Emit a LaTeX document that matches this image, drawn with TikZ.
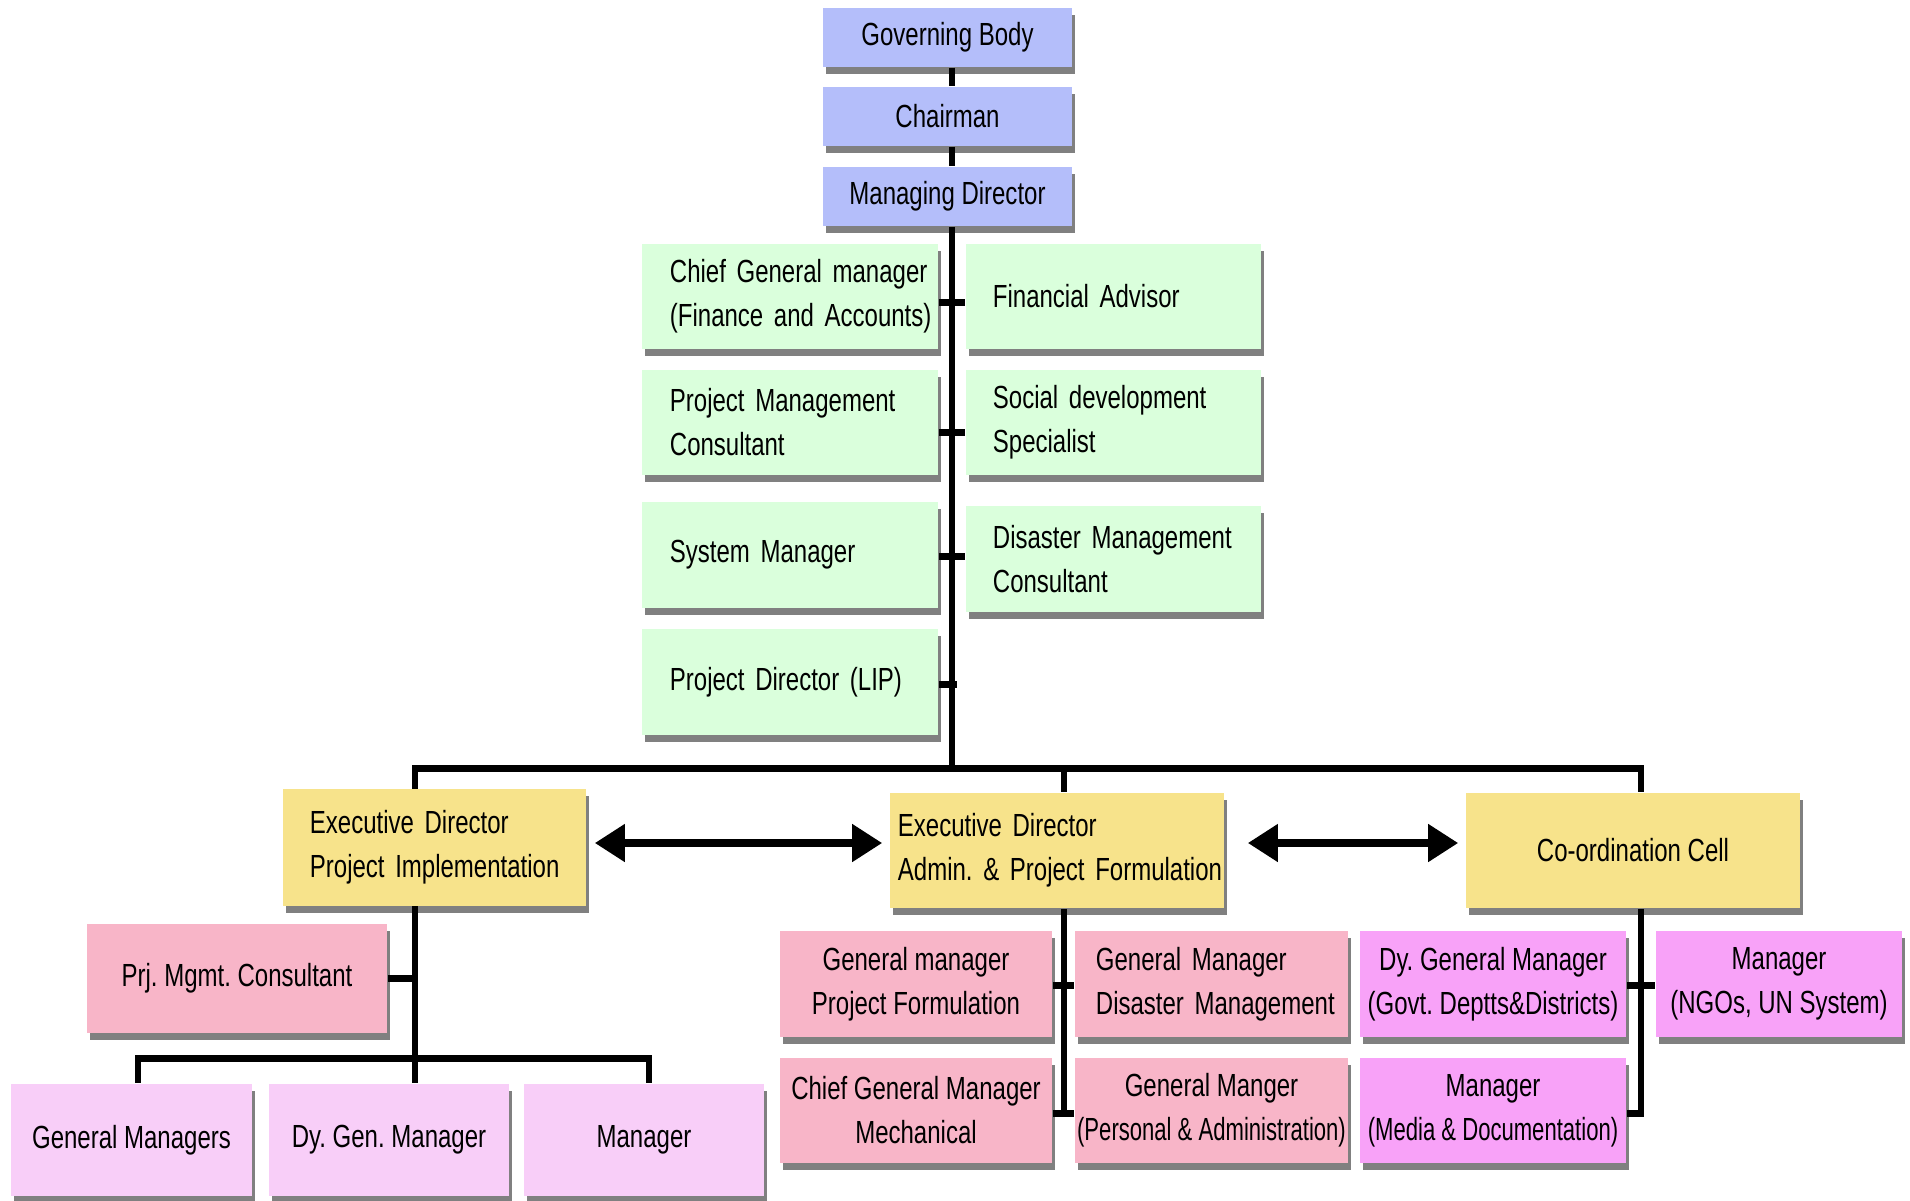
\documentclass[tikz,border=0pt]{standalone}
\usepackage{fontspec}
\newfontfamily\nf{Liberation Sans}[FakeStretch=0.75]
\newfontfamily\nfn{Liberation Sans}[FakeStretch=0.69]
\usetikzlibrary{shadows,arrows.meta}
\definecolor{cblue}{RGB}{180,190,250}
\definecolor{cgreen}{RGB}{218,255,220}
\definecolor{cyellow}{RGB}{247,227,139}
\definecolor{cpink}{RGB}{248,181,200}
\definecolor{cviolet}{RGB}{248,206,248}
\definecolor{cmag}{RGB}{248,162,248}
\definecolor{cshadow}{RGB}{128,128,128}
\tikzset{
  box/.style={rectangle, inner sep=0pt, font=\nf\fontsize{9.1pt}{12.5pt}\selectfont\frenchspacing,
    drop shadow={shadow xshift=0.03cm, shadow yshift=-0.07cm, fill=cshadow, opacity=1}},
  bluebox/.style={box, fill=cblue, minimum width=2.49cm, minimum height=0.59cm},
  greenbox/.style={box, fill=cgreen, minimum height=1.05cm, text width=2.40cm, inner xsep=0.28cm, align=left},
  yellowbox/.style={box, fill=cyellow, minimum height=1.16cm},
  pinkbox/.style={box, fill=cpink, minimum height=1.06cm, align=center},
  violetbox/.style={box, fill=cviolet, minimum height=1.12cm, align=center},
  magbox/.style={box, fill=cmag, minimum height=1.06cm, align=center},
  conn/.style={line width=0.06cm},
  busline/.style={line width=0.07cm},
  tickline/.style={line width=0.07cm},
  dblarrow/.style={line width=0.08cm, {Triangle[length=0.3cm,width=0.36cm]}-{Triangle[length=0.3cm,width=0.36cm]}},
}
\begin{document}
\begin{tikzpicture}[x=0.01cm,y=-0.01cm]
\path[use as bounding box, fill=white] (0,0) rectangle (1910,1200);

% top chain
\node[bluebox] (gb) at (947.5,37.5) {Governing Body};
\node[bluebox] (ch) at (947.5,116.5) {Chairman};
\node[bluebox] (md) at (947.5,196.5) {Managing Director};

% green staff boxes
\node[greenbox] (cgm) at (790,296.5) {\mbox{Chief General manager}\\\mbox{(Finance and Accounts)}};
\node[greenbox, text width=2.41cm, inner xsep=0.27cm] (fa) at (1113.5,296.5) {\mbox{Financial Advisor}};
\node[greenbox] (pmc) at (790,422.5) {\mbox{Project Management}\\\mbox{Consultant}};
\node[greenbox, text width=2.41cm, inner xsep=0.27cm] (sds) at (1113.5,422.5) {\mbox{Social development}\\\mbox{Specialist}};
\node[greenbox] (sm) at (790,555) {\mbox{System Manager}};
\node[greenbox, text width=2.41cm, inner xsep=0.27cm] (dmc) at (1113.5,559) {\mbox{Disaster Management}\\\mbox{Consultant}};
\node[greenbox] (pd) at (790,682) {\mbox{Project Director (LIP)}};

% executive level
\node[yellowbox, minimum width=3.03cm, text width=2.49cm, inner xsep=0.27cm, align=left] (edpi) at (434.5,847.5) {\mbox{Executive Director}\\\mbox{Project Implementation}};
\node[yellowbox, minimum width=3.34cm, text width=3.18cm, inner xsep=0.08cm, align=left, minimum height=1.15cm] (edaf) at (1057,850.5) {\mbox{Executive Director}\\\mbox{Admin. \& Project Formulation}};
\node[yellowbox, minimum width=3.34cm, minimum height=1.15cm] (cc) at (1633,850.5) {Co-ordination Cell};

% under ED Project Implementation
\node[pinkbox, minimum width=3.00cm, minimum height=1.09cm] (pmgc) at (237,978.5) {Prj. Mgmt. Consultant};
\node[violetbox, minimum width=2.41cm] (gms) at (131.5,1140) {General Managers};
\node[violetbox, minimum width=2.40cm] (dygm1) at (389,1140) {Dy. Gen. Manager};
\node[violetbox, minimum width=2.40cm] (mgr1) at (644,1140) {Manager};

% under ED Admin
\node[pinkbox, minimum width=2.72cm] (gmpf) at (916,984) {General manager\\Project Formulation};
\node[pinkbox, minimum width=2.73cm, text width=2.31cm, inner xsep=0.21cm, align=left] (gmdm) at (1211.5,984) {\mbox{General Manager}\\\mbox{Disaster Management}};
\node[pinkbox, minimum width=2.72cm, minimum height=1.05cm] (cgmm) at (916,1110.5) {Chief General Manager\\Mechanical};
\node[pinkbox, minimum width=2.73cm, minimum height=1.05cm] (gmpa) at (1211.5,1110.5) {General Manger\\{\nfn (Personal \& Administration)}};

% under Co-ordination Cell
\node[magbox, minimum width=2.66cm] (dygm2) at (1493,984) {Dy. General Manager\\(Govt. Deptts\&Districts)};
\node[magbox, minimum width=2.46cm] (mngo) at (1779,984) {Manager\\(NGOs, UN System)};
\node[magbox, minimum width=2.66cm, minimum height=1.05cm] (mmedia) at (1493,1110.5) {Manager\\{\nfn (Media \& Documentation)}};

% coordinates
\coordinate (tx) at (952,768);
\coordinate (r1) at (952,302);
\coordinate (r2) at (952,432);
\coordinate (r3) at (952,556);
\coordinate (r4) at (957,684);
\coordinate (b1) at (415,768);
\coordinate (b2) at (1064,768);
\coordinate (b3) at (1641,768);
\coordinate (bl) at (412,768);
\coordinate (br) at (1644,768);
\coordinate (p0) at (415,1058);
\coordinate (pt) at (415,978);
\coordinate (q1) at (138,1058);
\coordinate (q3) at (649,1058);
\coordinate (ql) at (135,1058);
\coordinate (qr) at (652,1058);
\coordinate (e1) at (1064,985);
\coordinate (e2) at (1064,1113);
\coordinate (c1) at (1641,985);
\coordinate (c2) at (1641,1113);
\coordinate (c2r) at (1644,1113);
\coordinate (ay) at (0,843);

% main trunk
\draw[conn] (gb.south -| tx) -- (ch.north -| tx);
\draw[conn] (ch.south -| tx) -- (md.north -| tx);
\draw[conn] (md.south -| tx) -- (tx);
\draw[tickline] (cgm.east |- r1) -- (fa.west |- r1);
\draw[tickline] (pmc.east |- r2) -- (sds.west |- r2);
\draw[tickline] (sm.east |- r3) -- (dmc.west |- r3);
\draw[tickline] (pd.east |- r4) -- (r4);

% bus to executives
\draw[busline] (bl) -- (br);
\draw[conn] (b1) -- (edpi.north -| b1);
\draw[conn] (b2) -- (edaf.north -| b2);
\draw[conn] (b3) -- (cc.north -| b3);

% double arrows
\draw[dblarrow, shorten <=0.08cm, shorten >=0.07cm] (edpi.east |- ay) -- (edaf.west |- ay);
\draw[dblarrow, shorten <=0.23cm, shorten >=0.07cm] (edaf.east |- ay) -- (cc.west |- ay);

% under ED PI
\draw[conn] (edpi.south -| p0) -- (p0);
\draw[tickline] (pmgc.east |- pt) -- (pt);
\draw[busline] (ql) -- (qr);
\draw[conn] (q1) -- (gms.north -| q1);
\draw[conn] (p0) -- (dygm1.north -| p0);
\draw[conn] (q3) -- (mgr1.north -| q3);

% under ED Admin
\draw[conn] (edaf.south -| e2) -- (e2);
\draw[tickline] (gmpf.east |- e1) -- (gmdm.west |- e1);
\draw[tickline] (cgmm.east |- e2) -- (gmpa.west |- e2);

% under Co-ordination Cell
\draw[conn] (cc.south -| c2) -- (c2);
\draw[tickline] (dygm2.east |- c1) -- (mngo.west |- c1);
\draw[tickline] (mmedia.east |- c2) -- (c2r);
\end{tikzpicture}
\end{document}
